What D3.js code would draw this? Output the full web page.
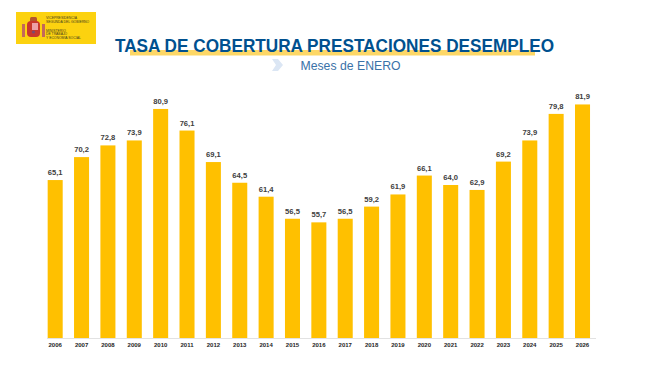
<!DOCTYPE html>
<html>
<head>
<meta charset="utf-8">
<script src="https://cdn.jsdelivr.net/npm/d3@7"></script>
<style>
  html, body { margin: 0; padding: 0; background: #fff; }
  svg { display: block; font-family: "Liberation Sans", Arial, sans-serif; }
</style>
</head>
<body>
<div id="chart"></div>
<script>
const years = ['2006','2007','2008','2009','2010','2011','2012','2013','2014','2015','2016','2017','2018','2019','2020','2021','2022','2023','2024','2025','2026'];
const rates = [65.1,70.2,72.8,73.9,80.9,76.1,69.1,64.5,61.4,56.5,55.7,56.5,59.2,61.9,66.1,64.0,62.9,69.2,73.9,79.8,81.9];
const logoTop = ['VICEPRESIDENCIA', 'SEGUNDA DEL GOBIERNO'];
const logoBottom = ['MINISTERIO', 'DE TRABAJO', 'Y ECONOMÍA SOCIAL'];

const width = 659;
const height = 371;

const svg = d3.select('#chart')
  .append('svg')
  .attr('width', width)
  .attr('height', height);

const xScale = d3.scaleBand()
  .domain(years)
  .range([42, 595.7])
  .paddingInner(0.43)
  .paddingOuter(0.215);

const yScale = d3.scaleLinear()
  .domain([30, 82])
  .range([338, 104]);

// logo block, the coat of arms is only a rough shape
const logo = svg.append('g');
logo.append('rect').attr('x', 16).attr('y', 12).attr('width', 80).attr('height', 32).attr('fill', '#fcd20f');
logo.append('rect').attr('x', 30).attr('y', 17).attr('width', 7).attr('height', 5).attr('rx', 1.5).attr('fill', '#b5562c');
logo.append('rect').attr('x', 27).attr('y', 21).attr('width', 13).attr('height', 16).attr('rx', 4).attr('fill', '#c9382c');
logo.append('rect').attr('x', 32).attr('y', 23).attr('width', 6).attr('height', 7).attr('fill', '#eda0a8');
logo.append('circle').attr('cx', 33.5).attr('cy', 32).attr('r', 1.6).attr('fill', '#7a4a70');
logo.append('rect').attr('x', 22).attr('y', 24).attr('width', 3).attr('height', 13).attr('fill', '#c4685a');
logo.append('rect').attr('x', 42).attr('y', 24).attr('width', 3).attr('height', 13).attr('fill', '#c4685a');
logo.selectAll('text.top')
  .data(logoTop)
  .join('text')
  .attr('class', 'top')
  .attr('x', 46)
  .attr('y', (d, i) => 19.2 + i * 4)
  .attr('font-size', 3.4)
  .attr('fill', '#3d3a20')
  .text(d => d);
logo.selectAll('text.bottom')
  .data(logoBottom)
  .join('text')
  .attr('class', 'bottom')
  .attr('x', 46)
  .attr('y', (d, i) => 31.5 + i * 3.6)
  .attr('font-size', 3.4)
  .attr('fill', '#3d3a20')
  .text(d => d);

// title with the yellow underline behind it
svg.append('rect').attr('x', 130).attr('y', 50).attr('width', 405).attr('height', 5.5).attr('fill', '#fdd766');
svg.append('text')
  .attr('x', 334.5)
  .attr('y', 51.5)
  .attr('text-anchor', 'middle')
  .attr('font-size', 18)
  .attr('font-weight', 'bold')
  .attr('textLength', 439)
  .attr('lengthAdjust', 'spacingAndGlyphs')
  .attr('fill', '#00508f')
  .text('TASA DE COBERTURA PRESTACIONES DESEMPLEO');

svg.append('path')
  .attr('d', d3.line()([[272, 59], [278, 59], [283, 65], [278, 71], [272, 71], [276, 65]]) + 'Z')
  .attr('fill', '#dbe6f4');
svg.append('text')
  .attr('x', 300.5)
  .attr('y', 70)
  .attr('font-size', 13.5)
  .attr('textLength', 100)
  .attr('lengthAdjust', 'spacingAndGlyphs')
  .attr('fill', '#3a72a8')
  .text('Meses de ENERO');

// bars
svg.append('g')
  .selectAll('rect')
  .data(years)
  .join('rect')
  .attr('x', d => xScale(d))
  .attr('y', (d, i) => yScale(rates[i]))
  .attr('width', xScale.bandwidth())
  .attr('height', (d, i) => yScale(30) - yScale(rates[i]))
  .attr('fill', '#ffc000');

// value labels
svg.append('g')
  .selectAll('text')
  .data(years)
  .join('text')
  .attr('x', d => xScale(d) + xScale.bandwidth() / 2)
  .attr('y', (d, i) => yScale(rates[i]) - 5)
  .attr('text-anchor', 'middle')
  .attr('font-size', 7.6)
  .attr('font-weight', 'bold')
  .attr('fill', '#404040')
  .text((d, i) => rates[i].toFixed(1).replace('.', ','));

// x axis, the line starts a bit right of the band range in the original
const xAxis = svg.append('g')
  .attr('transform', 'translate(0, 338.5)')
  .call(d3.axisBottom(xScale).tickSize(0).tickPadding(4));
xAxis.select('.domain').attr('d', 'M47,0H596').attr('stroke', '#e2e2e2');
xAxis.selectAll('text')
  .attr('font-family', '"Liberation Sans", Arial, sans-serif')
  .attr('font-size', 6)
  .attr('font-weight', 'bold')
  .attr('fill', '#262626');
</script>
</body>
</html>
